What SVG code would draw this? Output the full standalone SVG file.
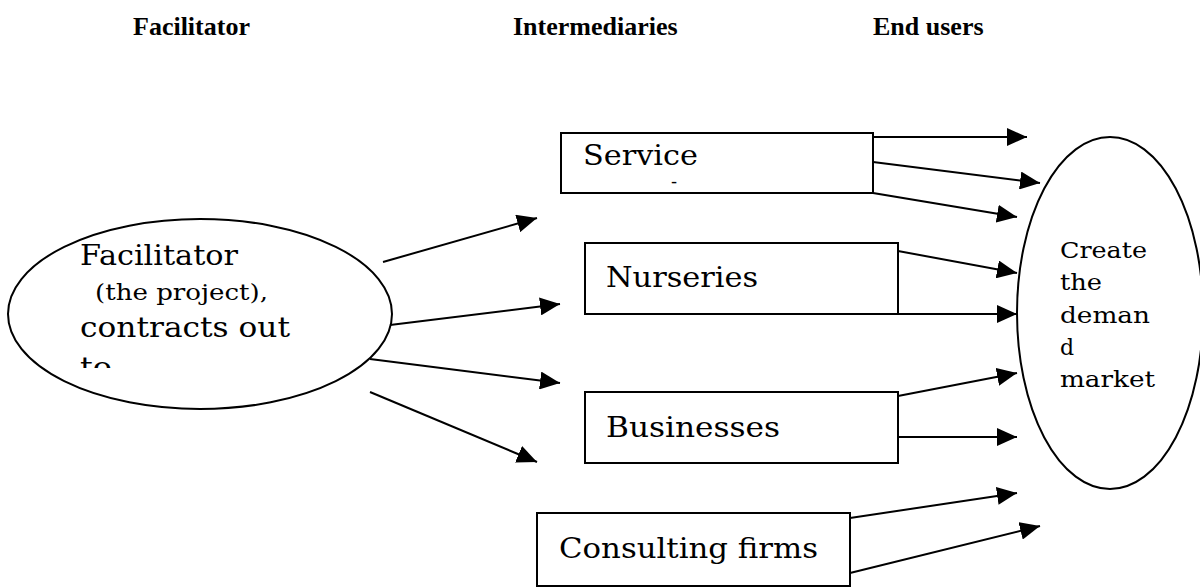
<svg xmlns="http://www.w3.org/2000/svg" width="1200" height="587" viewBox="0 0 1200 587">
<style>
.hd{font-family:"Liberation Serif","Times New Roman",serif;font-weight:bold;font-size:26px;fill:#000}
.bx{fill:#fff;stroke:#000;stroke-width:2}
.el{fill:#fff;stroke:#000;stroke-width:2}
.t{font-family:"DejaVu Serif",serif;fill:#000}
.b{font-size:28px}
.ln{stroke:#000;stroke-width:2;fill:none;marker-end:url(#ah)}
</style>
<defs>
<marker id="ah" markerUnits="userSpaceOnUse" markerWidth="20" markerHeight="18" refX="20" refY="9" orient="auto">
<path d="M0,0 L20,9 L0,18 z" fill="#000"/>
</marker>
<clipPath id="c1"><rect x="0" y="220" width="400" height="148"/></clipPath>
</defs>
<rect width="1200" height="587" fill="#fff"/>
<g id="headings">
<text class="hd" x="133" y="35">Facilitator</text>
<text class="hd" x="513" y="35">Intermediaries</text>
<text class="hd" x="873" y="35">End users</text>
</g>
<g id="facilitator">
<ellipse class="el" cx="200" cy="314" rx="192" ry="95"/>
<g clip-path="url(#c1)">
<text class="t" x="80" y="265" font-size="28" textLength="158" lengthAdjust="spacingAndGlyphs">Facilitator</text>
<text class="t" x="95" y="300" font-size="22" textLength="173" lengthAdjust="spacingAndGlyphs">(the project),</text>
<text class="t" x="80" y="337" font-size="28" textLength="210" lengthAdjust="spacingAndGlyphs">contracts out</text>
<text class="t" x="80" y="377" font-size="28" textLength="32" lengthAdjust="spacingAndGlyphs">to</text>
</g>
</g>
<g id="service">
<rect class="bx" x="561" y="133" width="312" height="60"/>
<text class="t b" x="583" y="165" textLength="115" lengthAdjust="spacingAndGlyphs">Service</text>
<text class="t" x="671" y="188" font-size="18">-</text>
</g>
<g id="nurseries">
<rect class="bx" x="585" y="243" width="313" height="71"/>
<text class="t b" x="606" y="287" textLength="152" lengthAdjust="spacingAndGlyphs">Nurseries</text>
</g>
<g id="businesses">
<rect class="bx" x="585" y="392" width="313" height="71"/>
<text class="t b" x="606" y="437" textLength="174" lengthAdjust="spacingAndGlyphs">Businesses</text>
</g>
<g id="consulting">
<rect class="bx" x="537" y="513" width="313" height="73"/>
<text class="t b" x="559" y="558" textLength="259" lengthAdjust="spacingAndGlyphs">Consulting firms</text>
</g>
<g id="endusers">
<ellipse class="el" cx="1110" cy="313" rx="93" ry="176"/>
<text class="t" font-size="22"><tspan x="1060" y="258" textLength="87" lengthAdjust="spacingAndGlyphs">Create</tspan><tspan x="1060" y="290" textLength="42" lengthAdjust="spacingAndGlyphs">the</tspan><tspan x="1060" y="323" textLength="90" lengthAdjust="spacingAndGlyphs">deman</tspan><tspan x="1060" y="355">d</tspan><tspan x="1060" y="387" textLength="95" lengthAdjust="spacingAndGlyphs">market</tspan></text>
</g>
<g id="connectors">
<line class="ln" x1="383" y1="262" x2="537" y2="218"/>
<line class="ln" x1="390" y1="325" x2="560" y2="304"/>
<line class="ln" x1="370" y1="359" x2="560" y2="383"/>
<line class="ln" x1="370" y1="392" x2="537" y2="462"/>
<line class="ln" x1="873" y1="137" x2="1027" y2="137"/>
<line class="ln" x1="873" y1="162" x2="1040" y2="183"/>
<line class="ln" x1="873" y1="193" x2="1017" y2="217"/>
<line class="ln" x1="898" y1="251" x2="1017" y2="273"/>
<line class="ln" x1="898" y1="314" x2="1017" y2="314"/>
<line class="ln" x1="898" y1="396" x2="1017" y2="373"/>
<line class="ln" x1="898" y1="437" x2="1017" y2="437"/>
<line class="ln" x1="850" y1="518" x2="1017" y2="493"/>
<line class="ln" x1="850" y1="573" x2="1040" y2="526"/>
</g>
</svg>
